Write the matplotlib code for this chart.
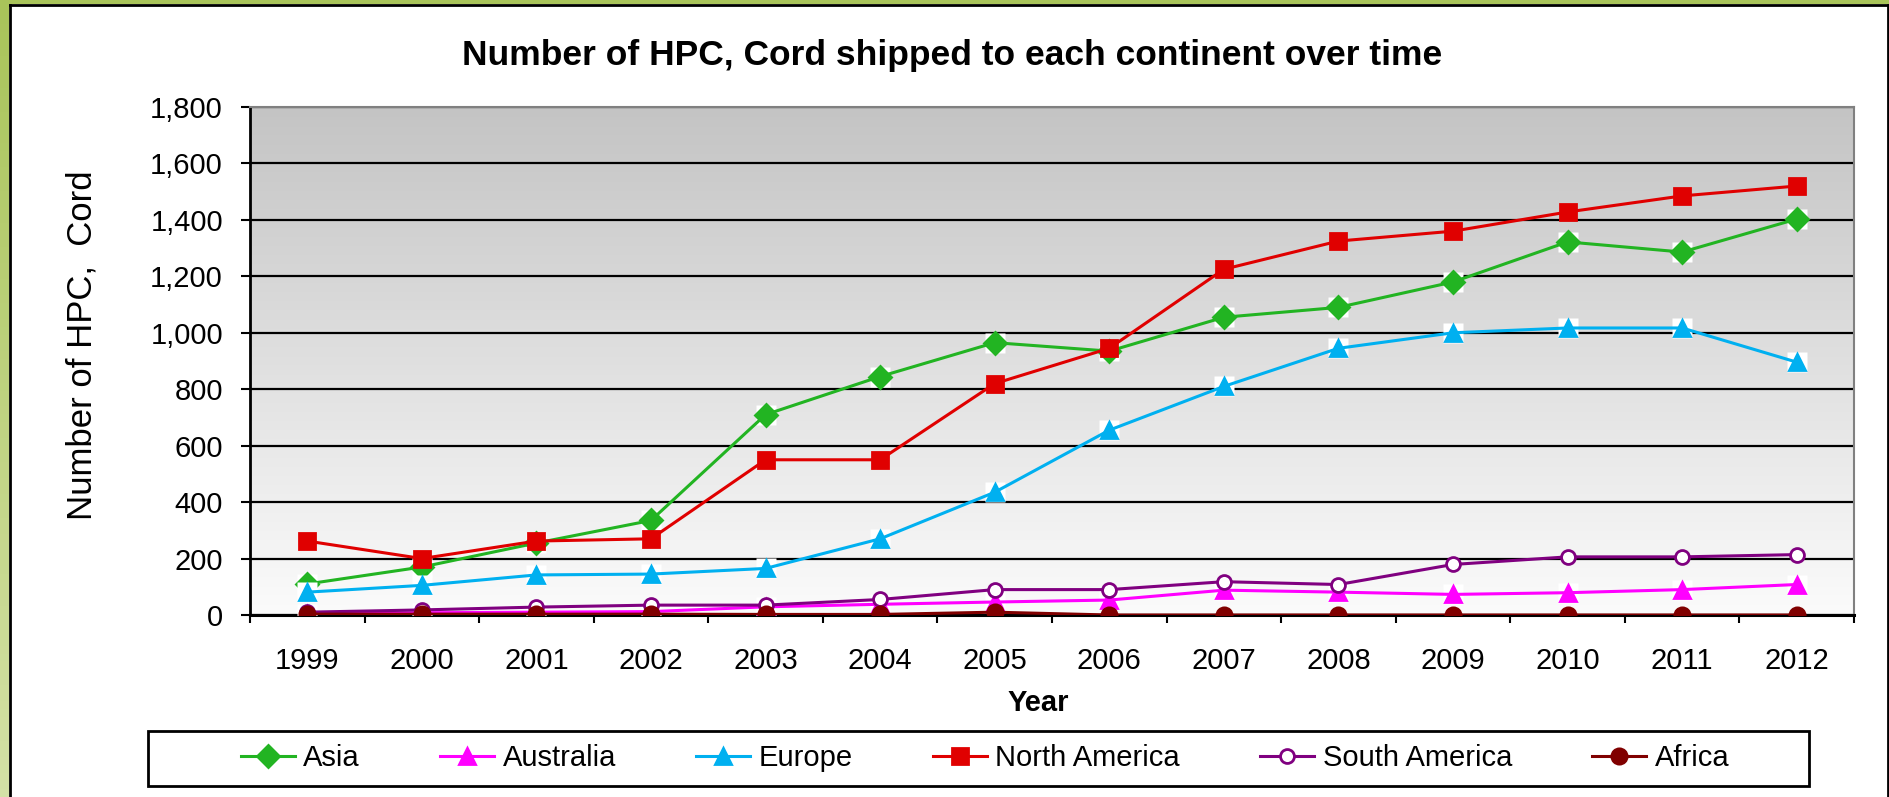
import numpy as np
import matplotlib
matplotlib.use('Agg')
import matplotlib.pyplot as plt
from matplotlib.patches import Rectangle
from matplotlib.colors import LinearSegmentedColormap

plt.rcParams['font.family'] = ['Liberation Sans', 'DejaVu Sans']

years = ['1999', '2000', '2001', '2002', '2003', '2004', '2005',
         '2006', '2007', '2008', '2009', '2010', '2011', '2012']

asia = [110, 170, 255, 335, 710, 845, 965, 935, 1055, 1090, 1180, 1322, 1286, 1403]
australia = [5, 8, 10, 12, 29, 38, 46, 53, 88, 81, 73, 79, 90, 108]
europe = [81, 105, 142, 145, 165, 270, 435, 655, 810, 945, 1000, 1017, 1017, 896]
north_america = [262, 200, 262, 270, 550, 550, 820, 945, 1225, 1325, 1360, 1428, 1485, 1520]
south_america = [10, 18, 28, 35, 35, 55, 90, 90, 118, 108, 179, 206, 206, 214]
africa = [3, 3, 3, 3, 2, 2, 10, 0, 0, 0, 0, 0, 0, 0]

fig = plt.figure(figsize=(18.9, 7.97), dpi=100)
fig.patch.set_facecolor('white')

# рамка: зелена смуга зверху і зліва, чорна лінія
W, H = 1890, 797
fig.patches.append(Rectangle((0, 1 - 4 / H), 1, 4 / H, transform=fig.transFigure,
                             facecolor='#a9c45a', edgecolor='none', zorder=0))
grad_ax = fig.add_axes([0, 0, 9 / W, 1])
grad_ax.imshow(np.linspace(0, 1, 100).reshape(-1, 1), aspect='auto',
               cmap=LinearSegmentedColormap.from_list('g', ['#a9c45a', '#d4e1a6']),
               extent=[0, 1, 0, 1])
grad_ax.axis('off')
fig.lines.append(plt.Line2D([10 / W, 10 / W], [0, 1 - 5 / H], transform=fig.transFigure,
                            color='black', lw=2))
fig.lines.append(plt.Line2D([10 / W, 1889 / W], [1 - 5 / H, 1 - 5 / H], transform=fig.transFigure,
                            color='black', lw=2))
fig.lines.append(plt.Line2D([1888.5 / W, 1888.5 / W], [0, 1 - 5 / H], transform=fig.transFigure,
                            color='black', lw=2))

ax = fig.add_axes([250 / W, 1 - 615 / H, (1854 - 250) / W, (615 - 107) / H])
x = np.arange(len(years))

# сірий градієнт фону
bg = LinearSegmentedColormap.from_list('bg', ['#fbfbfb', '#c4c4c4'])
ax.imshow(np.linspace(0, 1, 256).reshape(-1, 1), aspect='auto', cmap=bg,
          extent=[-0.5, 13.5, 0, 1800], origin='lower', zorder=0)

series = [
    ('Asia', asia, '#22b422', 'D', 11, '#22b422'),
    ('Australia', australia, '#ff00ff', '^', 11.5, '#ff00ff'),
    ('Europe', europe, '#00b0f0', '^', 11.5, '#00b0f0'),
    ('North America', north_america, '#e00000', 's', 11.5, '#e00000'),
    ('South America', south_america, '#800080', 'o', 10, 'white'),
    ('Africa', africa, '#800000', 'o', 11, '#800000'),
]
order = [5, 1, 4, 2, 3, 0]
handles = {}
for i in order:
    name, vals, col, mk, ms, fc = series[i]
    if mk in ('D', '^'):
        ax.plot(x, vals, linestyle='none', marker='s', ms=ms + 3.5, mfc='white',
                mec='none', zorder=3 + i * 0.1)
    h, = ax.plot(x, vals, color=col, lw=2.2, marker=mk, ms=ms, mfc=fc, mec=col,
                 mew=2, label=name, zorder=3.05 + i * 0.1)
    handles[name] = h

ax.set_xlim(-0.5, 13.5)
ax.set_ylim(0, 1800)
ax.set_yticks(range(0, 1801, 200))
ax.set_yticklabels(['{:,}'.format(v) for v in range(0, 1801, 200)], fontsize=21)
ax.set_xticks(x)
ax.set_xticklabels(years, fontsize=21)
ax.set_xticks(np.arange(-0.5, 14, 1), minor=True)
ax.tick_params(axis='x', which='major', length=0, pad=23)
ax.tick_params(axis='x', which='minor', length=6, width=1.5, direction='out')
ax.tick_params(axis='y', length=6.5, width=1.5, pad=13)
ax.yaxis.grid(True, color='black', lw=1.6, zorder=1)
ax.set_axisbelow(True)
for g in ax.get_ygridlines():
    g.set_zorder(1)
ax.spines['left'].set_linewidth(2)
ax.spines['bottom'].set_linewidth(2.2)
ax.spines['top'].set_color('#808080')
ax.spines['right'].set_color('#808080')
ax.spines['top'].set_linewidth(1.5)
ax.spines['right'].set_linewidth(1.5)

fig.text(952 / W, 1 - 56 / H, 'Number of HPC, Cord shipped to each continent over time',
         ha='center', va='center', fontsize=25.5, fontweight='bold')
fig.text(82 / W, 1 - 345 / H, 'Number of HPC,  Cord', rotation=90,
         ha='center', va='center', fontsize=25)
fig.text(1038 / W, 1 - 703 / H, 'Year', ha='center', va='center',
         fontsize=21, fontweight='bold')

names = [s[0] for s in series]
fig.legend([handles[n] for n in names], names, loc='center', ncol=6, frameon=False,
           bbox_to_anchor=(985 / W, 1 - 758 / H), fontsize=21, handlelength=1.84,
           handletextpad=0.3, columnspacing=2.75)
fig.patches.append(Rectangle((148 / W, 1 - 786 / H), (1809 - 148) / W, (786 - 731) / H,
                             transform=fig.transFigure, facecolor='none',
                             edgecolor='black', lw=2))

fig.savefig('out.png', dpi=100)
